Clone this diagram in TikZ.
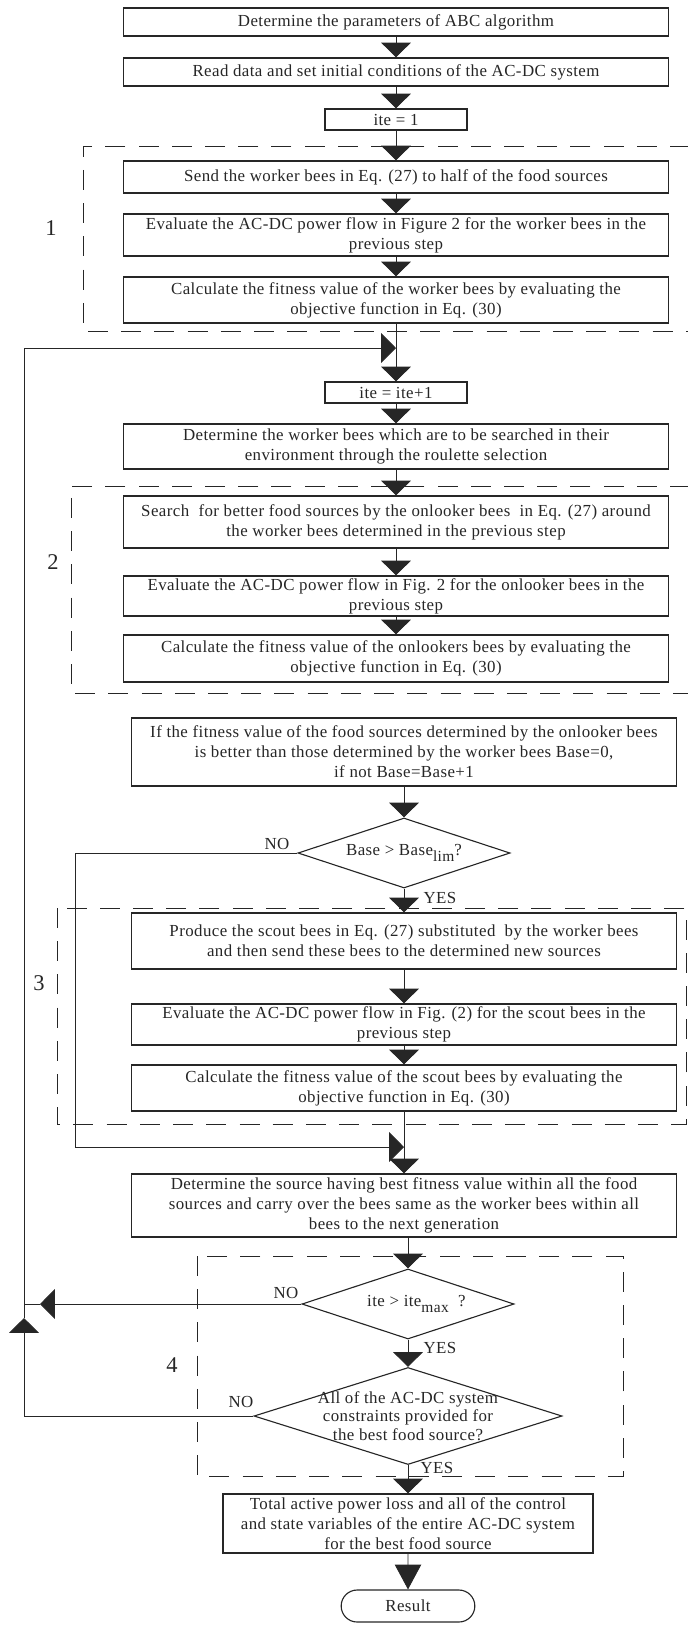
\documentclass[tikz,border=0pt]{standalone}
\usepackage{fontspec}
\setmainfont[LetterSpace=2.5]{Liberation Serif}
\usetikzlibrary{arrows.meta,shapes.geometric,shapes.misc}

\begin{document}
\begin{tikzpicture}[x=0.025cm,y=-0.025cm,color=black!85,
  every node/.style={font=\fontsize{12}{14.2}\selectfont},
  box/.style={draw,line width=0.8pt,align=center,inner sep=1pt,minimum width=13.6cm},
  smallbox/.style={draw,line width=0.8pt,inner sep=1pt,minimum width=3.55cm,minimum height=0.525cm},
  decision/.style={draw,line width=0.8pt,diamond,inner sep=0pt},
  arr/.style={line width=0.6pt,-{Triangle[width=0.74cm,length=0.37cm]}},
  bigarr/.style={line width=0.6pt,-{Triangle[width=0.66cm,length=0.62cm]}},
  line/.style={line width=0.6pt},
  region/.style={line width=0.6pt,dash pattern=on 0.5cm off 0.33cm},
  bignum/.style={font=\fontsize{16}{18}\selectfont}]

\useasboundingbox (0,0) rectangle (688,1627);

\draw[region] (690,146) -| (83,331) -- (690,331);
\draw[region] (690,486) -| (71,693) -- (690,693);
\draw[region] (57,908) rectangle (686,1124);
\draw[region] (197,1256) rectangle (623,1476);

\node[box,minimum height=0.7cm] (par) at (396,22) {Determine the parameters of ABC algorithm};
\node[box,minimum height=0.7cm] (read) at (396,72) {Read data and set initial conditions of the AC-DC system};
\node[smallbox] (ite1) at (396,119.5) {ite = 1};
\node[box,minimum height=0.8cm] (send) at (396,177) {Send the worker bees in Eq. (27) to half of the food sources};
\node[box,minimum height=1.05cm] (evw) at (396,235) {Evaluate the AC-DC power flow in Figure 2 for the worker bees in the\\previous step};
\node[box,minimum height=1.15cm] (fitw) at (396,300) {Calculate the fitness value of the worker bees by evaluating the\\objective function in Eq. (30)};
\coordinate (top) at (396,348);
\node[smallbox] (ite2) at (396,392.5) {ite = ite+1};
\node[box,minimum height=1.125cm] (sel) at (396,446.5) {Determine the worker bees which are to be searched in their\\environment through the roulette selection};
\node[box,minimum height=1.3cm] (onl) at (396,522) {Search \ for better food sources by the onlooker bees \ in Eq. (27) around\\the worker bees determined in the previous step};
\node[box,minimum height=1.0cm] (evo) at (396,596) {Evaluate the AC-DC power flow in Fig. 2 for the onlooker bees in the\\previous step};
\node[box,minimum height=1.175cm] (fito) at (396,658.5) {Calculate the fitness value of the onlookers bees by evaluating the\\objective function in Eq. (30)};

\node[box,minimum height=1.7cm] (cmp) at (404,752) {If the fitness value of the food sources determined by the onlooker bees\\is better than those determined by the worker bees Base=0,\\if not Base=Base+1};
\node[decision,minimum width=5.3cm,minimum height=1.75cm,
  label={center:{Base > Base\raisebox{-0.7ex}{\fontsize{11}{12}\selectfont lim}?}}] (lim) at (404,853) {};
\node[box,minimum height=1.4cm] (scout) at (404,941) {Produce the scout bees in Eq. (27) substituted \ by the worker bees\\and then send these bees to the determined new sources};
\node[box,minimum height=1.025cm] (evs) at (404,1024.5) {Evaluate the AC-DC power flow in Fig. (2) for the scout bees in the\\previous step};
\node[box,minimum height=1.15cm] (fits) at (404,1088) {Calculate the fitness value of the scout bees by evaluating the\\objective function in Eq. (30)};
\coordinate (join) at (404,1147);
\node[box,minimum height=1.575cm] (best) at (404,1205.5) {Determine the source having best fitness value within all the food\\sources and carry over the bees same as the worker bees within all\\bees to the next generation};
\node[decision,minimum width=5.3cm,minimum height=1.75cm,
  label={center:{\hspace{1em}ite > ite\raisebox{-0.7ex}{\fontsize{11}{12}\selectfont max}\ \ ?}}] (imax) at (408,1304) {};
\node[decision,minimum width=7.7cm,minimum height=2.425cm,
  label={[align=center,font=\fontsize{12}{13}\selectfont]center:{All of the AC-DC system\\constraints provided for\\the best food source?}}] (cons) at (408,1416) {};
\node[draw,line width=0.8pt,align=center,inner sep=1pt,minimum width=9.25cm,minimum height=1.475cm] (out) at (408,1523.5) {Total active power loss and all of the control\\and state variables of the entire AC-DC system\\for the best food source};
\node[draw,rounded rectangle,line width=0.8pt,minimum width=3.575cm,minimum height=0.8cm] (res) at (408,1606) {Result};

\coordinate (nol) at (75,1147);
\coordinate (up) at (24,1318);
\coordinate (lt) at (40,1304);
\coordinate (lft) at (24,1304);

\draw[arr] (par) -- (read);
\draw[arr] (read) -- (ite1);
\draw[arr] (ite1) -- (send);
\draw[arr] (send) -- (evw);
\draw[arr] (evw) -- (fitw);
\draw[line] (fitw) -- (top);
\draw[arr] (top) -- (ite2);
\draw[arr] (ite2) -- (sel);
\draw[arr] (sel) -- (onl);
\draw[arr] (onl) -- (evo);
\draw[arr] (evo) -- (fito);
\draw[arr] (cmp) -- (lim);
\draw[arr] (lim) -- (scout);
\draw[arr] (scout) -- (evs);
\draw[arr] (evs) -- (fits);
\draw[line] (fits) -- (join);
\draw[arr] (join) -- (best);
\draw[arr] (best.south) -- (best.south -| imax.north) -- (imax.north);
\draw[arr] (imax) -- (cons);
\draw[arr] (cons) -- (out);
\draw[bigarr] (out) -- (res);

\draw[arr] (lim.west) -| (nol) -- (join);
\draw[arr] (cons.west) -| (up);
\draw[arr] (up) |- (top);
\draw[arr] (imax.west) -- (lt);
\draw[line] (lt) -- (lft);

\node[bignum] (n1) at (51,228) {1};
\node[bignum] (n2) at (53,562) {2};
\node[bignum] (n3) at (39,983) {3};
\node[bignum] (n4) at (172,1365) {4};

\node (no1) at (277,844) {NO};
\node (yes1) at (440,898) {YES};
\node (no2) at (286,1293) {NO};
\node (yes2) at (440,1348) {YES};
\node (no3) at (241,1402) {NO};
\node (yes3) at (437,1468) {YES};
\end{tikzpicture}
\end{document}
